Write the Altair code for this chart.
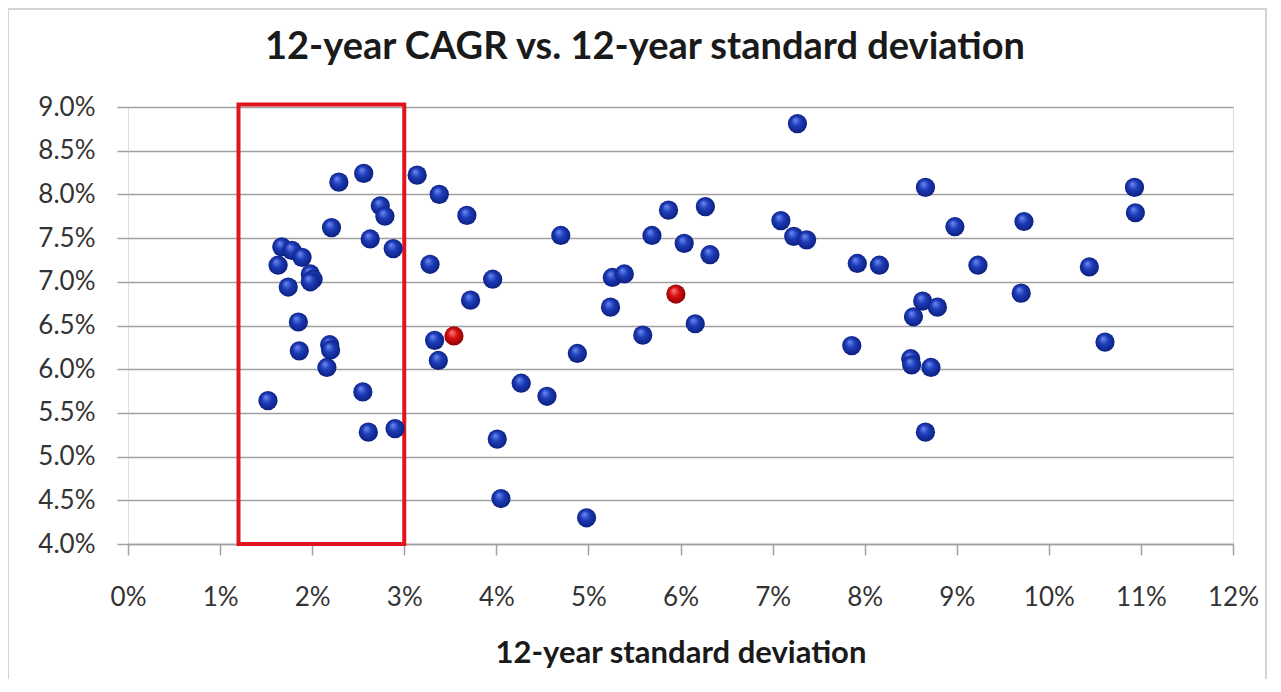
import altair as alt
import pandas as pd

# ---- data ----
sd_blue = [1.52, 1.63, 1.67, 1.78, 1.89, 1.74, 1.98, 2.01, 1.98, 1.85, 1.86, 2.19, 2.20, 2.16,
           2.21, 2.29, 2.56, 2.63, 2.74, 2.79, 2.88, 2.55, 2.61, 2.90,
           3.14, 3.38, 3.68, 3.28, 3.72, 3.33, 3.37, 3.96, 4.01, 4.05, 4.27, 4.55, 4.70, 4.88,
           4.98, 5.26, 5.39, 5.24, 5.59, 5.69, 5.87, 6.04, 6.16, 6.27, 6.32,
           7.09, 7.23, 7.37, 7.27, 7.86, 7.92, 8.16, 8.53, 8.50, 8.51, 8.72, 8.66, 8.66, 8.63,
           8.79, 8.98, 9.23, 9.70, 9.73, 10.44, 10.61, 10.93, 10.94]
cagr_blue = [5.64, 7.19, 7.40, 7.36, 7.28, 6.94, 7.09, 7.03, 7.00, 6.54, 6.21, 6.28, 6.22, 6.02,
             7.62, 8.14, 8.24, 7.49, 7.87, 7.75, 7.38, 5.74, 5.28, 5.32,
             8.22, 8.00, 7.76, 7.20, 6.79, 6.33, 6.10, 7.03, 5.20, 4.52, 5.84, 5.69, 7.53, 6.18,
             4.30, 7.05, 7.09, 6.71, 6.39, 7.53, 7.82, 7.44, 6.52, 7.86, 7.31,
             7.70, 7.52, 7.48, 8.81, 6.27, 7.21, 7.19, 6.60, 6.12, 6.05, 6.02, 5.28, 8.08, 6.78,
             6.71, 7.63, 7.19, 6.87, 7.69, 7.17, 6.31, 8.08, 7.79]
sd_red = [3.54, 5.95]
cagr_red = [6.38, 6.86]

box_x = [1.2]
box_x2 = [3.0]
box_y = [4.0]
box_y2 = [9.03]

x_ticks = list(range(0, 13))
y_ticks = [4.0, 4.5, 5.0, 5.5, 6.0, 6.5, 7.0, 7.5, 8.0, 8.5, 9.0]

title_text = "12-year CAGR vs. 12-year standard deviation"
x_title = "12-year standard deviation"

FONT = "Lato"
W, H = 1105, 437

blue_df = pd.DataFrame({"sd": sd_blue, "cagr": cagr_blue})
red_df = pd.DataFrame({"sd": sd_red, "cagr": cagr_red})
box_df = pd.DataFrame({"x": box_x, "x2": box_x2, "y": box_y, "y2": box_y2})
title_df = pd.DataFrame({"t": [title_text]})

x_scale = alt.Scale(domain=[0, 12], nice=False, zero=False)
y_scale = alt.Scale(domain=[4, 9], nice=False, zero=False)

x_axis = alt.Axis(values=x_ticks, labelExpr="datum.value + '%'", title=x_title,
                  grid=False, domain=True, domainColor="#a0a0a0", domainWidth=1.5,
                  ticks=True, tickColor="#a0a0a0", tickSize=11, tickWidth=1.5,
                  labelFlush=False, labelOverlap=False,
                  labelFont=FONT, labelFontSize=26, labelColor="#333333", labelPadding=29,
                  titleFont=FONT, titleFontSize=31, titleFontWeight="bold", titleColor="#1a1a1a",
                  titlePadding=28)
y_axis = alt.Axis(values=y_ticks, labelExpr="format(datum.value, '.1f') + '%'", title=None,
                  grid=True, gridColor="#a0a0a0", gridWidth=1.5,
                  domain=False, ticks=True, tickColor="#a0a0a0", tickSize=11, tickWidth=1.5,
                  labelFlush=False, labelOverlap=False,
                  labelFont=FONT, labelFontSize=26, labelColor="#333333", labelPadding=22)

blue_grad = alt.RadialGradient(gradient="radial", x1=0.38, y1=0.3, r1=0.0, x2=0.5, y2=0.5, r2=0.55,
                               stops=[alt.GradientStop(color="#6f8cf4", offset=0.0),
                                      alt.GradientStop(color="#1d3cb8", offset=0.45),
                                      alt.GradientStop(color="#0a1c78", offset=1.0)])
red_grad = alt.RadialGradient(gradient="radial", x1=0.38, y1=0.3, r1=0.0, x2=0.5, y2=0.5, r2=0.55,
                              stops=[alt.GradientStop(color="#ff8080", offset=0.0),
                                     alt.GradientStop(color="#d81010", offset=0.45),
                                     alt.GradientStop(color="#860000", offset=1.0)])

frame = alt.Chart(pd.DataFrame({"a": [0]})).mark_rect(
    filled=False, stroke="#d4d4d4", strokeWidth=2
).encode(x=alt.value(-120), x2=alt.value(1138), y=alt.value(-98), y2=alt.value(574))

title_mark = alt.Chart(title_df).mark_text(
    font=FONT, fontSize=38, fontWeight="bold", color="#1a1a1a", align="center", baseline="middle"
).encode(text="t:N", x=alt.value(517), y=alt.value(-59))

grid_base = alt.Chart(blue_df).mark_point(opacity=0).encode(
    x=alt.X("sd:Q", scale=x_scale, axis=x_axis),
    y=alt.Y("cagr:Q", scale=y_scale, axis=y_axis),
)

box = alt.Chart(box_df).mark_rect(filled=False, stroke="#e0141e", strokeWidth=4).encode(
    x=alt.X("x:Q", scale=x_scale),
    x2="x2:Q",
    y=alt.Y("y:Q", scale=y_scale),
    y2="y2:Q",
)

blue = alt.Chart(blue_df).mark_circle(size=370, opacity=1, fill=blue_grad).encode(
    x=alt.X("sd:Q", scale=x_scale),
    y=alt.Y("cagr:Q", scale=y_scale),
)
red = alt.Chart(red_df).mark_circle(size=370, opacity=1, fill=red_grad).encode(
    x=alt.X("sd:Q", scale=x_scale),
    y=alt.Y("cagr:Q", scale=y_scale),
)

chart = alt.layer(frame, title_mark, grid_base, box, blue, red).properties(
    width=W, height=H,
    autosize=alt.AutoSizeParams(type="none"),
    padding={"left": 120, "top": 99, "right": 35, "bottom": 135},
).configure_view(stroke=None).configure(background="white")

chart.save("out.html", embed_options={"renderer": "svg", "actions": False})
